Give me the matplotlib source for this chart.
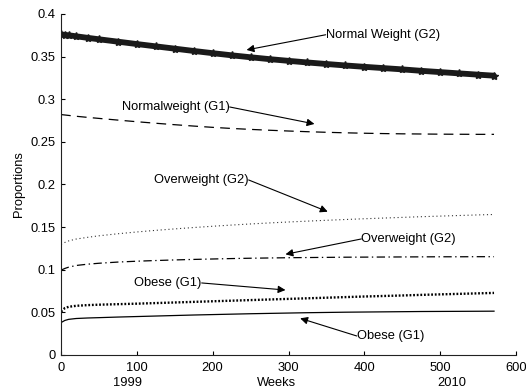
import matplotlib
matplotlib.use("Agg")
import matplotlib.pyplot as plt

plt.rcParams['font.family'] = ['Liberation Sans', 'DejaVu Sans']
plt.rcParams['lines.scale_dashes'] = False

weeks = [0, 5, 10, 20, 35, 50, 75, 100, 125, 150, 175, 200, 225, 250, 275,
         300, 325, 350, 375, 400, 425, 450, 475, 500, 525, 550, 571]

normal_g2 = [0.3760, 0.3755, 0.3750, 0.3738, 0.3720, 0.3703, 0.3675, 0.3647,
             0.3620, 0.3593, 0.3566, 0.3540, 0.3515, 0.3492, 0.3470, 0.3450,
             0.3431, 0.3413, 0.3396, 0.3380, 0.3365, 0.3350, 0.3333, 0.3318,
             0.3303, 0.3288, 0.3276]
normal_g1 = [0.2820, 0.2815, 0.2810, 0.2800, 0.2787, 0.2775, 0.2755, 0.2736,
             0.2718, 0.2701, 0.2685, 0.2670, 0.2657, 0.2646, 0.2636, 0.2627,
             0.2619, 0.2612, 0.2606, 0.2601, 0.2597, 0.2594, 0.2592, 0.2590,
             0.2589, 0.2588, 0.2588]
over_g2_dot = [0.1298, 0.1320, 0.1338, 0.1360, 0.1380, 0.1398, 0.1422, 0.1443,
               0.1462, 0.1479, 0.1495, 0.1510, 0.1524, 0.1537, 0.1549, 0.1560,
               0.1570, 0.1580, 0.1589, 0.1598, 0.1606, 0.1614, 0.1622, 0.1629,
               0.1636, 0.1643, 0.1648]
over_g2_dd = [0.0995, 0.1015, 0.1030, 0.1050, 0.1065, 0.1076, 0.1090, 0.1100,
              0.1108, 0.1115, 0.1121, 0.1126, 0.1131, 0.1135, 0.1138, 0.1141,
              0.1143, 0.1145, 0.1147, 0.1148, 0.1149, 0.1150, 0.1151, 0.1152,
              0.1152, 0.1153, 0.1153]
obese_g1_dot = [0.0510, 0.0550, 0.0565, 0.0577, 0.0585, 0.0590, 0.0596, 0.0602,
                0.0609, 0.0616, 0.0623, 0.0630, 0.0637, 0.0644, 0.0651, 0.0658,
                0.0665, 0.0672, 0.0679, 0.0686, 0.0692, 0.0698, 0.0705, 0.0711,
                0.0717, 0.0723, 0.0728]
obese_g1_solid = [0.0380, 0.0405, 0.0418, 0.0428, 0.0434, 0.0438, 0.0445, 0.0451,
                  0.0457, 0.0463, 0.0469, 0.0474, 0.0479, 0.0484, 0.0488, 0.0492,
                  0.0496, 0.0499, 0.0502, 0.0504, 0.0506, 0.0508, 0.0510, 0.0511,
                  0.0512, 0.0513, 0.0514]

x_ticks = [0, 100, 200, 300, 400, 500, 600]
y_ticks = [0, 0.05, 0.1, 0.15, 0.2, 0.25, 0.3, 0.35, 0.4]
y_ticklabels = ['0', '0.05', '0.1', '0.15', '0.2', '0.25', '0.3', '0.35', '0.4']

# annotations: (label, text anchor, arrow tip, horizontal alignment)
annotations = [
    ("Normal Weight (G2)", (349.0, 0.3756), (244.7, 0.3578), 'left'),
    ("Normalweight (G1)", (222.4, 0.2909), (334.2, 0.2710), 'right'),
    ("Overweight (G2)", (247.4, 0.2053), (351.7, 0.1681), 'right'),
    ("Overweight (G2)", (396.0, 0.1361), (296.0, 0.1181), 'left'),
    ("Obese (G1)", (185.5, 0.0845), (296.0, 0.0762), 'right'),
    ("Obese (G1)", (390.0, 0.0223), (315.4, 0.0430), 'left'),
]

FS = 9.3
fig = plt.figure(figsize=(5.26, 3.92), dpi=100)
ax = fig.add_axes([0.116, 0.0944, 0.865, 0.870])

ax.plot(weeks, normal_g2, color='#1a1a1a', lw=4.2, marker='*', ms=6,
        mec='#1a1a1a', mfc='#1a1a1a', solid_capstyle='round')
ax.plot(weeks, normal_g1, color='black', lw=0.9, dashes=(7, 4.5))
ax.plot(weeks, over_g2_dot, color='#333333', lw=0.8, dashes=(0.8, 2.0))
ax.plot(weeks, over_g2_dd, color='black', lw=0.9, dashes=(6, 2.5, 1, 2.5))
ax.plot(weeks, obese_g1_dot, color='black', lw=1.7, dashes=(1.3, 1.3))
ax.plot(weeks, obese_g1_solid, color='black', lw=0.9)

for label, txt, tip, ha in annotations:
    ax.annotate('', xy=tip, xytext=txt,
                arrowprops=dict(arrowstyle='-|>', color='black', lw=0.8,
                                mutation_scale=11, shrinkA=0, shrinkB=0))
    ax.text(txt[0], txt[1], label, ha=ha, va='center', fontsize=FS,
            bbox=dict(boxstyle='square,pad=0.05', fc='none', ec='none'))

ax.set_xlim(0, 600)
ax.set_ylim(0, 0.4)
ax.set_xticks(x_ticks)
ax.set_xticklabels([str(v) for v in x_ticks])
ax.set_yticks(y_ticks)
ax.set_yticklabels(y_ticklabels)
ax.tick_params(direction='in', length=3, width=0.8, labelsize=FS, pad=4)
ax.tick_params(axis='x', pad=5)
for s in ['top', 'right']:
    ax.spines[s].set_visible(False)
for s in ['left', 'bottom']:
    ax.spines[s].set_linewidth(0.8)
    ax.spines[s].set_color('#222222')

ax.set_ylabel('Proportions', fontsize=FS, labelpad=4)
ax.text(87.5, -0.0330, '1999', ha='center', va='center', fontsize=FS)
ax.text(284.0, -0.0330, 'Weeks', ha='center', va='center', fontsize=FS)
ax.text(515.0, -0.0330, '2010', ha='center', va='center', fontsize=FS)

fig.savefig('out.png', dpi=100)
